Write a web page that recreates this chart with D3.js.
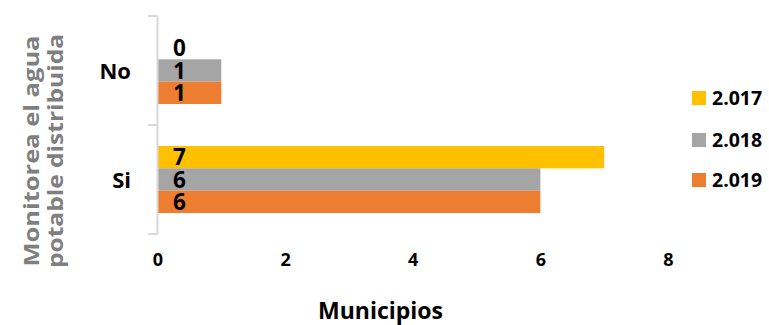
<!DOCTYPE html>
<html><head><meta charset="utf-8">
<script src="https://cdn.jsdelivr.net/npm/d3@7"></script>
<style>body{margin:0;background:#fff}svg{display:block}text{font-family:"Open Sans",sans-serif}</style>
</head><body>
<svg id="c" width="769" height="325"></svg>
<script>
const categories = ["No", "Si"];
const seriesNames = ["2.017", "2.018", "2.019"];
const values2017 = [0, 7];
const values2018 = [1, 6];
const values2019 = [1, 6];
const xTicks = [0, 2, 4, 6, 8];
const colors = ["#FFC000", "#A5A5A5", "#ED7D31"];

const seriesValues = [values2017, values2018, values2019];
const svg = d3.select("#c");
const x = d3.scaleLinear().domain([0, 8]).range([157.5, 668]);
const y0 = d3.scaleBand().domain(categories).range([16, 234]).paddingInner(0.385).paddingOuter(0.1925);
const y1 = d3.scaleBand().domain(seriesNames).range([0, y0.bandwidth()]);

// bars
categories.forEach((c, ci) => {
  seriesNames.forEach((s, si) => {
    const v = seriesValues[si][ci];
    svg.append("rect")
      .attr("x", x(0)).attr("y", y0(c) + y1(s))
      .attr("width", x(v) - x(0)).attr("height", y1.bandwidth())
      .attr("fill", colors[si]);
    svg.append("text")
      .attr("x", x(0) + 22).attr("y", y0(c) + y1(s) + y1.bandwidth() / 2)
      .attr("dy", "0.37em").attr("text-anchor", "middle")
      .attr("font-size", 22.5).attr("font-weight", "bold").attr("fill", "#000")
      .text(v);
  });
});

// category axis
const band = d3.scaleBand().domain(categories).range([16, 234]);
const g = svg.append("g");
g.append("line").attr("x1", x(0)).attr("x2", x(0)).attr("y1", 16).attr("y2", 234)
  .attr("stroke", "#d9d9d9").attr("stroke-width", 2);
[16, 125, 234].forEach(t => {
  g.append("line").attr("x1", 148).attr("x2", x(0)).attr("y1", t).attr("y2", t)
    .attr("stroke", "#d9d9d9").attr("stroke-width", 2);
});
categories.forEach(c => {
  g.append("text").attr("x", 131).attr("y", band(c) + band.bandwidth() / 2)
    .attr("dy", "0.37em").attr("text-anchor", "end")
    .attr("font-size", 22).attr("font-weight", "bold").attr("fill", "#000").text(c);
});

// x ticks
const xAxis = d3.axisBottom(x).tickValues(xTicks).tickSize(0).tickFormat(d3.format("d"));
const xg = svg.append("g").attr("transform", "translate(0,250)").call(xAxis);
xg.select(".domain").remove();
xg.selectAll("text").attr("font-size", 18).attr("font-weight", "bold").attr("fill", "#000")
  .attr("font-family", "'Open Sans', sans-serif");

// axis titles
svg.append("text").attr("x", 380.5).attr("y", 318.5).attr("text-anchor", "middle")
  .attr("font-size", 23).attr("font-weight", "bold").attr("fill", "#000").text("Municipios");
const yt = svg.append("text").attr("transform", "translate(38.5,151) rotate(-90)")
  .attr("text-anchor", "middle").attr("font-size", 22).attr("font-weight", "bold").attr("fill", "#7f7f7f");
yt.append("tspan").attr("x", 0).attr("y", 0).attr("textLength", 231).attr("lengthAdjust", "spacingAndGlyphs").text("Monitorea el agua");
yt.append("tspan").attr("x", 0).attr("y", 24).attr("textLength", 234).attr("lengthAdjust", "spacingAndGlyphs").text("potable distribuida");

// legend
const ly = [98, 140, 180];
seriesNames.forEach((s, i) => {
  svg.append("rect").attr("x", 692).attr("y", ly[i] - 7).attr("width", 14).attr("height", 14).attr("fill", colors[i]);
  svg.append("text").attr("x", 712).attr("y", ly[i]).attr("dy", "0.37em")
    .attr("font-size", 19.5).attr("font-weight", "bold").attr("fill", "#000").text(s);
});
</script>
</body></html>
